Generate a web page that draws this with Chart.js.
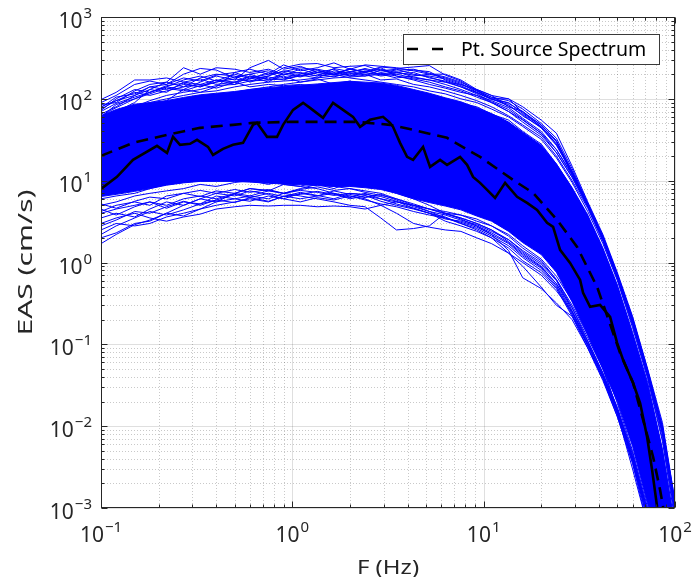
<!DOCTYPE html>
<html>
<head>
<meta charset="utf-8">
<script src="https://cdn.jsdelivr.net/npm/chart.js@4.4.0/dist/chart.umd.min.js"></script>
<style>
  body { margin: 0; background: #fff; }
  #wrap { width: 695px; height: 577px; }
</style>
</head>
<body>
<div id="wrap"><canvas id="chart" width="695" height="577"></canvas></div>
<script>
// frequency grid of the individual records (Hz)
const freqGrid = [0.1, 0.12, 0.15, 0.18, 0.22, 0.27, 0.33, 0.4, 0.5, 0.6, 0.75, 0.9, 1.1, 1.35, 1.65, 2, 2.4, 2.9, 3.5, 4.3,
  5.2, 6.3, 7.6, 9.2, 11, 13.5, 16, 20, 24, 29, 35, 42, 50, 60, 72, 86, 100];

// where the records are packed solid (upper / lower edge of the blue mass)
const bandHigh = [62, 74, 86, 90, 95, 104, 112, 117, 123, 130, 137, 142, 147, 152, 158, 164, 160, 156, 146, 130,
  117, 103, 92, 78, 66, 52, 39, 27, 16, 8.2, 3.8, 1.5, 0.53, 0.14, 0.034, 0.0052, 0.0006];
const bandLow = [6.4, 6.8, 7.4, 8.0, 8.8, 9.4, 9.8, 9.8, 9.8, 9.6, 9.3, 9.1, 8.9, 8.7, 8.5, 8.5, 8.2, 7.8, 7.0, 6.0,
  5.4, 4.9, 4.4, 3.7, 3.2, 2.4, 1.75, 1.25, 0.76, 0.33, 0.13, 0.05, 0.02, 0.0057, 0.0011, 0.0002, 0.00004];

// records above the mass
const recU1 = [90, 110, 150, 165, 150, 200, 235, 225, 180, 200, 170, 190, 160, 175, 150, 165, 140, 150, 130, 120,
  110, 100, 88, 80, 65, 55, 40, 28, 16, 8, 3.6, 1.4, 0.5, 0.13, 0.03, 0.005, 0.0005];
const recU2 = [60, 85, 100, 120, 140, 130, 160, 190, 170, 240, 295, 230, 250, 210, 230, 190, 200, 170, 175, 150,
  140, 125, 110, 95, 80, 62, 48, 34, 20, 10, 4.6, 1.8, 0.62, 0.17, 0.04, 0.007, 0.0008];
const recU3 = [75, 95, 120, 110, 125, 140, 150, 135, 160, 175, 190, 240, 265, 270, 240, 250, 255, 220, 230, 200,
  185, 160, 140, 120, 100, 85, 62, 45, 28, 13, 5.2, 2.0, 0.7, 0.2, 0.045, 0.009, 0.0011];
const recU4 = [50, 65, 80, 95, 110, 120, 130, 145, 150, 165, 170, 175, 190, 210, 200, 230, 215, 245, 235, 245,
  255, 195, 165, 125, 105, 95, 75, 50, 33, 14, 5.3, 2.1, 0.72, 0.21, 0.048, 0.010, 0.0012];
const recU5 = [45, 60, 75, 90, 100, 110, 120, 125, 140, 150, 160, 165, 170, 180, 190, 200, 210, 190, 200, 180,
  170, 160, 150, 130, 110, 100, 80, 55, 38, 15, 5.5, 2.2, 0.75, 0.22, 0.05, 0.011, 0.0012];
const recU6 = [98, 120, 170, 170, 180, 160, 175, 150, 160, 140, 150, 145, 150, 140, 155, 150, 145, 140, 130, 120,
  105, 95, 85, 72, 60, 48, 36, 25, 14, 7, 3.0, 1.2, 0.4, 0.1, 0.024, 0.004, 0.0004];
const recU7 = [40, 55, 70, 85, 95, 130, 120, 140, 210, 180, 200, 260, 220, 240, 275, 230, 210, 240, 190, 170,
  150, 135, 120, 110, 90, 70, 55, 38, 22, 11, 4.8, 1.9, 0.66, 0.18, 0.042, 0.008, 0.0009];
const recU8 = [55, 70, 90, 130, 160, 240, 200, 240, 230, 210, 230, 200, 210, 190, 200, 180, 170, 160, 150, 140,
  125, 115, 100, 90, 75, 60, 46, 32, 19, 9.5, 4.2, 1.7, 0.6, 0.16, 0.038, 0.0065, 0.0007];
const recU9 = [35, 45, 60, 70, 80, 90, 100, 110, 120, 130, 140, 150, 160, 170, 180, 185, 190, 200, 180, 190,
  200, 200, 170, 130, 110, 80, 70, 45, 30, 12, 5.0, 2.0, 0.7, 0.19, 0.046, 0.009, 0.001];
const recU10 = [65, 80, 110, 140, 130, 150, 140, 170, 150, 190, 160, 210, 190, 220, 200, 230, 260, 250, 240, 220,
  200, 180, 155, 120, 100, 100, 68, 48, 31, 13, 5.0, 1.9, 0.65, 0.19, 0.042, 0.0085, 0.001];
const recU11 = [80, 95, 110, 130, 120, 160, 150, 170, 160, 190, 175, 200, 185, 210, 195, 215, 200, 205, 190, 175,
  160, 140, 125, 105, 90, 70, 52, 36, 22, 11, 4.8, 1.9, 0.65, 0.18, 0.043, 0.008, 0.0009];
const recU12 = [72, 100, 130, 120, 140, 170, 190, 165, 200, 175, 210, 180, 200, 230, 210, 190, 220, 200, 215, 185,
  170, 150, 130, 110, 95, 78, 58, 40, 24, 11.5, 5.0, 2.0, 0.68, 0.19, 0.044, 0.0085, 0.0010];
const recU13 = [85, 90, 125, 150, 160, 140, 180, 200, 190, 160, 185, 170, 195, 180, 220, 205, 190, 225, 200, 210,
  180, 165, 140, 115, 92, 74, 56, 38, 24, 12, 5.1, 2.0, 0.7, 0.2, 0.045, 0.009, 0.001];
const recU14 = [62, 78, 100, 115, 135, 125, 145, 160, 175, 165, 190, 220, 205, 190, 235, 215, 230, 195, 210, 195,
  190, 175, 150, 125, 100, 82, 64, 44, 27, 12.5, 5.2, 2.05, 0.7, 0.2, 0.046, 0.0095, 0.0011];
const recU15 = [78, 105, 115, 140, 150, 180, 165, 195, 210, 230, 200, 215, 240, 225, 200, 235, 210, 230, 210, 225,
  215, 170, 145, 118, 98, 90, 66, 46, 28, 12, 4.9, 1.95, 0.66, 0.19, 0.044, 0.009, 0.001];
const recU16 = [70, 88, 105, 120, 145, 155, 140, 160, 185, 200, 220, 195, 230, 200, 185, 210, 235, 210, 225, 230,
  205, 185, 160, 128, 104, 88, 70, 48, 30, 13, 5.2, 2.1, 0.72, 0.21, 0.048, 0.0098, 0.0011];

// records below the mass
const recD1 = [1.7, 2.2, 2.9, 3.3, 4.0, 5.0, 6.0, 5.5, 7.0, 8.0, 7.5, 9.0, 8.5, 10, 9, 11, 10, 9.5, 10, 8.5,
  8.0, 7.0, 6.5, 5.5, 4.5, 3.5, 2.6, 1.8, 1.1, 0.55, 0.25, 0.1, 0.032, 0.008, 0.0017, 0.0003, 0.00005];
const recD2 = [2.5, 3.0, 2.8, 3.0, 3.6, 4.0, 4.5, 5.5, 6.0, 6.5, 7.5, 7.0, 8.0, 9.0, 8.0, 9.5, 9.0, 8.5, 9.0, 8.0,
  7.0, 6.5, 5.5, 4.8, 4.0, 3.0, 2.2, 1.5, 0.95, 0.48, 0.21, 0.085, 0.027, 0.0068, 0.0014, 0.00025, 0.00004];
const recD3 = [4.0, 4.5, 5.0, 5.5, 5.0, 6.0, 6.5, 6.0, 7.0, 6.5, 6.0, 7.0, 6.5, 6.0, 5.5, 5.0, 4.8, 3.5, 2.5, 2.6,
  2.8, 4.0, 3.8, 3.2, 2.8, 2.2, 1.6, 1.1, 0.68, 0.34, 0.15, 0.06, 0.019, 0.005, 0.001, 0.00018, 0.00003];
const recD4 = [3.0, 3.5, 4.0, 3.5, 3.2, 3.6, 3.9, 4.5, 4.8, 5.0, 4.9, 5.0, 5.0, 4.8, 4.9, 4.8, 4.5, 5.0, 5.5, 5.0,
  4.5, 4.2, 3.8, 3.4, 2.8, 2.1, 1.5, 1.05, 0.62, 0.3, 0.13, 0.052, 0.016, 0.004, 0.0008, 0.00014, 0.00002];
const recD5 = [6.0, 6.5, 7.0, 8.0, 9.0, 9.5, 10, 11, 10.5, 12, 11, 12, 11.5, 12, 11, 10, 9, 8, 7, 6,
  5.0, 4.0, 3.4, 2.8, 2.2, 1.4, 0.65, 0.48, 0.32, 0.2, 0.09, 0.038, 0.013, 0.0035, 0.0006, 0.0001, 0.00002];
const recD6 = [5.0, 5.5, 6.5, 7.0, 7.5, 8.0, 9.0, 8.5, 9.5, 10, 9.0, 10, 9.5, 9.0, 8.5, 8.0, 7.5, 7.0, 6.0, 5.0,
  4.2, 3.5, 3.0, 2.5, 2.0, 1.3, 0.9, 0.5, 0.3, 0.22, 0.1, 0.042, 0.014, 0.003, 0.0006, 0.0001, 0.00002];
const recD7 = [7.0, 7.5, 8.0, 8.5, 9.0, 10, 11, 10, 12, 11, 10, 9.0, 8.5, 8.0, 7.0, 6.5, 6.0, 5.0, 4.0, 3.0,
  2.7, 2.5, 2.4, 2.0, 1.7, 1.3, 1.0, 0.7, 0.45, 0.25, 0.11, 0.045, 0.015, 0.0038, 0.0008, 0.00015, 0.00003];
const recD8 = [2.0, 2.3, 3.0, 3.2, 4.0, 3.7, 4.5, 5.0, 5.5, 6.0, 5.5, 6.5, 6.0, 6.5, 7.0, 6.0, 6.5, 6.0, 5.5, 5.0,
  4.5, 4.0, 3.5, 3.0, 2.5, 1.8, 1.3, 0.9, 0.55, 0.28, 0.12, 0.05, 0.016, 0.0042, 0.0009, 0.00016, 0.00003];
const recD9 = [3.5, 4.0, 3.6, 4.5, 5.5, 5.0, 6.0, 7.0, 6.5, 7.5, 6.8, 6.0, 7.0, 6.5, 7.5, 6.8, 6.2, 6.8, 5.8, 4.8,
  4.2, 3.8, 3.3, 2.9, 2.4, 1.9, 1.35, 0.95, 0.6, 0.26, 0.105, 0.042, 0.016, 0.0045, 0.0009, 0.00017, 0.00003];
const recD10 = [4.5, 3.8, 4.8, 5.5, 4.6, 5.5, 5.2, 6.5, 6.0, 5.6, 6.5, 6.0, 5.5, 6.2, 5.8, 6.5, 5.8, 5.2, 4.8, 4.2,
  3.8, 3.5, 3.1, 2.7, 2.2, 1.7, 1.2, 0.85, 0.52, 0.24, 0.1, 0.04, 0.015, 0.0042, 0.0008, 0.00015, 0.00003];
const recD11 = [2.8, 3.3, 4.2, 4.0, 4.8, 5.6, 5.0, 5.8, 6.8, 6.2, 5.6, 6.4, 7.2, 6.6, 6.0, 7.0, 6.6, 5.6, 5.0, 4.5,
  4.0, 3.6, 3.0, 2.6, 2.1, 1.6, 1.15, 0.8, 0.5, 0.23, 0.095, 0.038, 0.014, 0.0038, 0.0007, 0.00013, 0.00002];
const recD12 = [5.2, 4.6, 5.6, 6.3, 6.0, 7.0, 7.6, 7.0, 7.8, 7.2, 7.8, 7.0, 7.6, 7.2, 6.6, 7.0, 6.8, 6.4, 5.6, 4.6,
  4.0, 3.4, 3.2, 2.8, 2.3, 1.75, 1.25, 0.88, 0.55, 0.25, 0.1, 0.04, 0.015, 0.004, 0.0008, 0.00015, 0.00003];
const recD13 = [2.2, 2.8, 3.5, 4.2, 3.8, 4.4, 5.2, 5.8, 5.4, 6.2, 7.0, 6.4, 6.8, 7.4, 6.8, 6.2, 7.0, 6.0, 5.2, 4.6,
  4.0, 3.2, 2.8, 2.4, 2.0, 1.5, 1.05, 0.75, 0.48, 0.22, 0.09, 0.036, 0.013, 0.0036, 0.0007, 0.00013, 0.00002];
const recD14 = [4.2, 5.0, 5.5, 5.0, 6.5, 7.0, 6.4, 7.5, 7.0, 8.0, 7.6, 7.0, 7.8, 8.4, 7.6, 8.0, 7.2, 6.6, 6.0, 5.2,
  4.5, 3.9, 3.5, 3.0, 2.5, 1.9, 1.4, 1.0, 0.62, 0.28, 0.11, 0.044, 0.017, 0.0047, 0.0009, 0.00017, 0.00003];

// thick black record
const meanFreq = [0.1, 0.1212, 0.147, 0.1962, 0.2213, 0.2379, 0.2588, 0.292, 0.3177, 0.3625, 0.385, 0.4342, 0.4898,
  0.5525, 0.6232, 0.654, 0.7377, 0.8318, 0.8943, 1.009, 1.138, 1.237, 1.447, 1.632, 1.841, 2.076, 2.259, 2.547,
  2.979, 3.241, 3.36, 3.656, 3.978, 4.276, 4.822, 5.246, 5.918, 6.437, 7.528, 8.19, 8.803, 9.576, 10.42, 11.47,
  12.94, 14.95, 16.86, 19.02, 21.45, 23.06, 25.08, 28.29, 31.92, 33.08, 35.99, 40.6, 45.79, 49.82, 53.55, 60.39,
  65.71, 71.49, 75.92, 80.63];
const meanAmp = [7.94, 11.13, 17.96, 26.64, 21.87, 34.31, 27.41, 28.18, 31.54, 25.89, 20.67, 24.48, 27.41,
  28.98, 48.1, 50.9, 34.31, 34.31, 48.1, 73.4, 89.4, 77.6, 58.6, 89.4, 73.4, 60.3, 45.5, 55.4,
  60.3, 50.9, 45.5, 28.98, 19.54, 17.96, 25.89, 14.75, 17.96, 15.61, 19.54, 15.61, 11.13, 9.4, 7.72, 6.16,
  9.4, 6.34, 5.35, 4.4, 3.05, 2.72, 1.43, 0.99, 0.613, 0.425, 0.287, 0.303, 0.216, 0.104, 0.0645, 0.0337,
  0.0192, 0.00738, 0.00291, 0.00103];

// point source spectrum (dashed)
const srcFreq = [0.1, 0.147, 0.2213, 0.3293, 0.4898, 0.6232, 0.973, 2.179, 3.241, 4.276, 6.437, 9.576, 14.25,
  18.13, 24.19, 30.78, 39.16, 51.64, 60.39, 68.13, 76.84, 83.58, 86.66];
const srcAmp = [20.1, 28.98, 36.3, 44.2, 48.1, 50.9, 52.3, 52.3, 48.1, 41.8, 33.4, 19.5, 10.2,
  7.09, 3.32, 1.55, 0.503, 0.0785, 0.0337, 0.0119, 0.0042, 0.00166, 0.00103];

const xTickPow = [-1, 0, 1, 2];
const yTickPow = [-3, -2, -1, 0, 1, 2, 3];
const legendLabel = 'Pt. Source Spectrum';
const xTitle = 'F (Hz)';
const yTitle = 'EAS (cm/s)';

const FONT = '"Noto Sans", "Open Sans", sans-serif';
const AXC = '#262626';
const BLUE = '#0000ff';

const blueRecords = [recU1, recU2, recU3, recU4, recU5, recU6, recU7, recU8, recU9, recU10,
  recU11, recU12, recU13, recU14, recU15, recU16,
  recD1, recD2, recD3, recD4, recD5, recD6, recD7, recD8, recD9, recD10, recD11, recD12, recD13, recD14];

function pts(fs, vs) {
  return fs.map((f, i) => ({x: f, y: vs[i]}));
}

function decadeValues(lo, hi) {
  // 1..9 x 10^e inside [10^lo, 10^hi]
  let out = [];
  for (let e = lo; e < hi; e++) {
    for (let m = 1; m <= 9; m++) out.push({v: m * Math.pow(10, e), major: m === 1});
  }
  out.push({v: Math.pow(10, hi), major: true});
  return out;
}

function powLabel(ctx, e, x, y, mode) {
  const sup = String(e).replace('-', '\u2212');
  ctx.font = '21px ' + FONT;
  const wb = ctx.measureText('10').width;
  ctx.font = '15px ' + FONT;
  const ws = ctx.measureText(sup).width;
  const total = wb + 1 + ws;
  const left = mode === 'x' ? x - total / 2 : x - total;
  ctx.textAlign = 'left';
  ctx.textBaseline = 'alphabetic';
  ctx.font = '21px ' + FONT;
  ctx.fillText('10', left, y);
  ctx.font = '15px ' + FONT;
  ctx.fillText(sup, left + wb + 1, y - 10);
}

const matlabAxes = {
  id: 'matlabAxes',
  beforeDraw(chart) {
    const {ctx, chartArea: a, scales: {x, y}} = chart;
    ctx.save();
    ctx.fillStyle = '#fff';
    ctx.fillRect(0, 0, chart.width, chart.height);
    const xs = decadeValues(-1, 2), ys = decadeValues(-3, 3);
    ctx.lineWidth = 1;
    // minor grid, dotted
    ctx.setLineDash([1, 2]);
    ctx.strokeStyle = 'rgba(38,38,38,0.25)';
    ctx.beginPath();
    xs.filter(t => !t.major).forEach(t => {
      const px = Math.round(x.getPixelForValue(t.v)) + 0.5;
      ctx.moveTo(px, a.top); ctx.lineTo(px, a.bottom);
    });
    ys.filter(t => !t.major).forEach(t => {
      const py = Math.round(y.getPixelForValue(t.v)) + 0.5;
      ctx.moveTo(a.left, py); ctx.lineTo(a.right, py);
    });
    ctx.stroke();
    // major grid
    ctx.setLineDash([]);
    ctx.strokeStyle = 'rgba(38,38,38,0.15)';
    ctx.beginPath();
    xs.filter(t => t.major).forEach(t => {
      const px = Math.round(x.getPixelForValue(t.v)) + 0.5;
      ctx.moveTo(px, a.top); ctx.lineTo(px, a.bottom);
    });
    ys.filter(t => t.major).forEach(t => {
      const py = Math.round(y.getPixelForValue(t.v)) + 0.5;
      ctx.moveTo(a.left, py); ctx.lineTo(a.right, py);
    });
    ctx.stroke();
    ctx.restore();
  },
  afterDatasetsDraw(chart) {
    const {ctx, chartArea: a, scales: {x, y}} = chart;
    const L = Math.round(a.left) + 0.5, R = Math.round(a.right) - 0.5;
    const T = Math.round(a.top) + 0.5, B = Math.round(a.bottom) - 0.5;
    ctx.save();
    ctx.strokeStyle = AXC;
    ctx.lineWidth = 1;
    ctx.strokeRect(L, T, R - L, B - T);
    // inward ticks on all four sides
    ctx.beginPath();
    decadeValues(-1, 2).forEach(t => {
      const px = Math.round(x.getPixelForValue(t.v)) + 0.5;
      const len = t.major ? 6 : 3;
      ctx.moveTo(px, B); ctx.lineTo(px, B - len);
      ctx.moveTo(px, T); ctx.lineTo(px, T + len);
    });
    decadeValues(-3, 3).forEach(t => {
      const py = Math.round(y.getPixelForValue(t.v)) + 0.5;
      const len = t.major ? 6 : 3;
      ctx.moveTo(L, py); ctx.lineTo(L + len, py);
      ctx.moveTo(R, py); ctx.lineTo(R - len, py);
    });
    ctx.stroke();

    ctx.fillStyle = AXC;
    xTickPow.forEach(e => powLabel(ctx, e, x.getPixelForValue(Math.pow(10, e)), a.bottom + 34, 'x'));
    yTickPow.forEach(e => powLabel(ctx, e, a.left - 9, y.getPixelForValue(Math.pow(10, e)) + 11, 'y'));

    // axis titles (the reference renders them a bit wide)
    ctx.textAlign = 'center';
    ctx.textBaseline = 'alphabetic';
    ctx.save();
    ctx.font = '20px ' + FONT;
    ctx.translate((a.left + a.right) / 2, 574);
    ctx.scale(1.2, 1);
    ctx.fillText(xTitle, 0, 0);
    ctx.restore();
    ctx.save();
    ctx.font = '20px ' + FONT;
    ctx.translate(32, (a.top + a.bottom) / 2);
    ctx.rotate(-Math.PI / 2);
    ctx.scale(1.5, 1);
    ctx.fillText(yTitle, 0, 0);
    ctx.restore();

    // legend box
    ctx.fillStyle = '#fff';
    ctx.fillRect(403, 34, 256, 30);
    ctx.strokeStyle = '#3a3a3a';
    ctx.strokeRect(403.5, 34.5, 256, 30);
    ctx.strokeStyle = '#000';
    ctx.lineWidth = 2.5;
    ctx.setLineDash([11, 14]);
    ctx.beginPath();
    ctx.moveTo(407, 49); ctx.lineTo(457, 49);
    ctx.stroke();
    ctx.setLineDash([]);
    ctx.fillStyle = '#000';
    ctx.font = '19.5px ' + FONT;
    ctx.textAlign = 'left';
    ctx.fillText(legendLabel, 461, 56);
    ctx.restore();
  }
};

const datasets = [
  {label: legendLabel, data: pts(srcFreq, srcAmp), borderColor: '#000', borderWidth: 2.6, borderDash: [12, 7], order: 0},
  {label: 'record', data: pts(meanFreq, meanAmp), borderColor: '#000', borderWidth: 2.6, order: 1}
];
blueRecords.forEach(r => datasets.push({data: pts(freqGrid, r), borderColor: BLUE, borderWidth: 1, order: 2}));
datasets.push({data: pts(freqGrid, bandLow), borderColor: BLUE, borderWidth: 1, order: 3});
datasets.push({data: pts(freqGrid, bandHigh), borderColor: BLUE, borderWidth: 1, backgroundColor: BLUE, fill: '-1', order: 3});
datasets.forEach(d => { d.clip = 0; d.pointRadius = 0; d.tension = 0; });

new Chart(document.getElementById('chart'), {
  type: 'line',
  data: {datasets: datasets},
  options: {
    responsive: false,
    animation: false,
    devicePixelRatio: 1,
    events: [],
    layout: {padding: {left: 101, right: 20, top: 17, bottom: 69}},
    plugins: {legend: {display: false}, tooltip: {enabled: false}},
    scales: {
      x: {type: 'logarithmic', min: 0.1, max: 100, display: false},
      y: {type: 'logarithmic', min: 0.001, max: 1000, display: false}
    }
  },
  plugins: [matlabAxes]
});
</script>
</body>
</html>
